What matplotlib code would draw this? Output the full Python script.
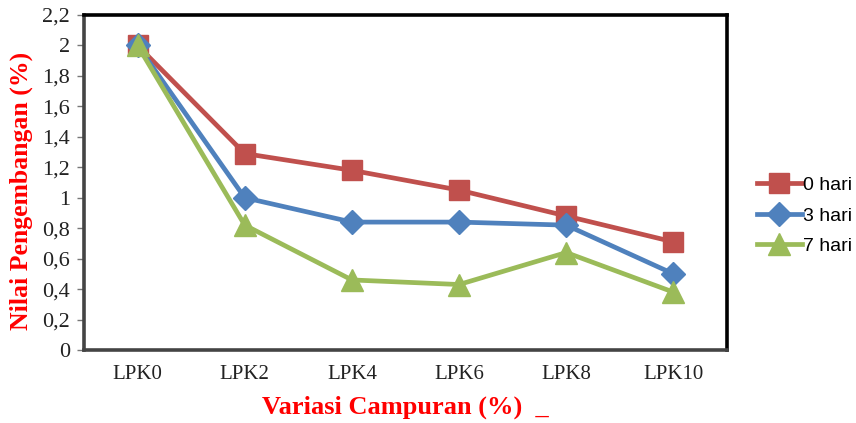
import matplotlib.pyplot as plt
from matplotlib.ticker import FuncFormatter

# data nilai pengembangan per variasi campuran
kategori = ["LPK0", "LPK2", "LPK4", "LPK6", "LPK8", "LPK10"]
hari_0 = [2.0, 1.29, 1.18, 1.05, 0.88, 0.71]
hari_3 = [2.0, 1.0, 0.84, 0.84, 0.82, 0.50]
hari_7 = [2.0, 0.82, 0.46, 0.43, 0.64, 0.38]
label_seri = ["0 hari", "3 hari", "7 hari"]
yticks = [0, 0.2, 0.4, 0.6, 0.8, 1.0, 1.2, 1.4, 1.6, 1.8, 2.0, 2.2]

fig = plt.figure(figsize=(8.56, 4.23), dpi=100)
ax = fig.add_axes([0.0981, 0.1726, 0.7512, 0.7919])

x = range(len(kategori))
gaya = [
    (hari_0, "#C0504D", "s", 14.5),
    (hari_3, "#4F81BD", "D", 12),
    (hari_7, "#9BBB59", "^", 16),
]
garis = []
for (nilai, warna, mk, ms), lbl in zip(gaya, label_seri):
    g, = ax.plot(x, nilai, color=warna, marker=mk, markersize=ms, linewidth=3.4,
                 label=lbl, solid_joinstyle="round")
    garis.append(g)

ax.set_xlim(-0.5, len(kategori) - 0.5)
ax.set_ylim(0, 2.2)
ax.set_xticks(list(x))
ax.set_xticklabels(kategori, fontfamily="Liberation Serif", fontsize=15, color="#222222")
ax.set_yticks(yticks)
ax.yaxis.set_major_formatter(FuncFormatter(lambda v, p: f"{v:g}".replace(".", ",")))
for t in ax.get_yticklabels():
    t.set_fontfamily("Liberation Serif")
    t.set_fontsize(16)
    t.set_color("#222222")
ax.tick_params(axis="x", length=0, pad=11)
ax.tick_params(axis="y", direction="out", length=5, width=1, color="#777777", pad=5)

for s in ax.spines.values():
    s.set_linewidth(2.6)
    s.set_color("black")
ax.spines["left"].set_color("#444444")
ax.spines["bottom"].set_color("#444444")

ax.set_ylabel("Nilai Pengembangan (%)", fontfamily="Liberation Serif", fontsize=18.5,
              fontweight="bold", color="red")
ax.yaxis.set_label_coords(-0.079, 0.475)
ax.set_xlabel("Variasi Campuran (%)  _", fontfamily="Liberation Serif", fontsize=19,
              fontweight="bold", color="red", labelpad=8)

fig.legend(handles=garis, loc="center left", bbox_to_anchor=(0.875, 0.49),
           frameon=False, prop={"family": "Liberation Sans", "size": 14},
           handlelength=2.3, handletextpad=0.1, labelspacing=0.65, borderaxespad=0)

fig.savefig("out.png", dpi=100, facecolor="white")
